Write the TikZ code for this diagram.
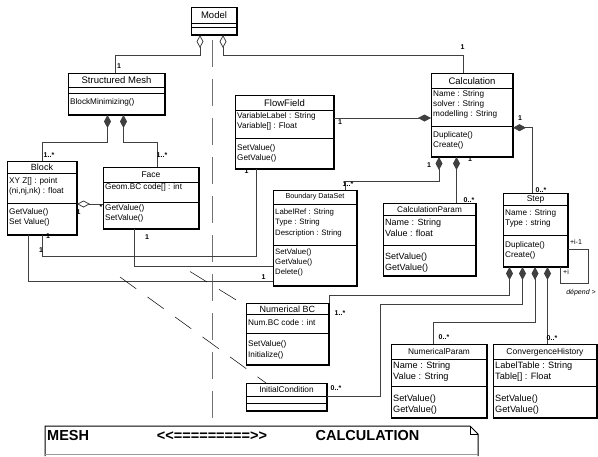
\documentclass[tikz,border=0pt]{standalone}
\usepackage{fontspec}
\setmainfont{Liberation Sans}
\usetikzlibrary{arrows.meta}
\newcommand\umlframe[7]{%
  \node[box, minimum width=#4pt, minimum height=#5pt] (#1) at (#2,#3) {};
  \draw[cline] ([yshift=-#6pt]#1.north west) -- ([yshift=-#6pt]#1.north east);
  \draw[cline] ([yshift=-#6pt-#7pt]#1.north west) -- ([yshift=-#6pt-#7pt]#1.north east);
  \draw[thickedge] (#1.south west) -- (#1.south east) -- (#1.north east);
}
\begin{document}
\begin{tikzpicture}[x=1pt,y=-1pt,
  box/.style={draw, line width=0.7pt, inner sep=0pt, outer sep=0pt, anchor=north west},
  cline/.style={line width=0.6pt},
  thickedge/.style={line width=1.4pt},
  ttl/.style={inner sep=0pt, font=\fontsize{#1}{10}\selectfont},
  ttl/.default=8.5,
  att/.style={anchor=north west, align=left, inner sep=0pt, font=\fontsize{#1}{10.2}\selectfont},
  att/.default=8.2,
  attw/.style={anchor=north west, align=left, inner sep=0pt, font=\fontsize{#1}{11}\selectfont},
  con/.style={draw=black!75, line width=0.8pt},
  comp/.style={con, {Diamond[length=13pt,width=7pt]}-},
  agg/.style={con, {Diamond[open,length=13pt,width=7pt]}-},
  lab/.style={inner sep=0pt, font=\bfseries\fontsize{7}{8}\selectfont},
  vline/.style={draw=black!55, line width=1.2pt, dash pattern=on 27pt off 12pt},
  dline/.style={draw=black, line width=0.5pt, dash pattern=on 20pt off 14pt},
]
\useasboundingbox[fill=white] (0,0) rectangle (598,456);

% ---------- vertical separator ----------
\coordinate (vtop) at (212.5,40);
\coordinate (vbot) at (212.5,426);
\draw[vline] (vtop) -- (vbot);

% ---------- boxes ----------
\umlframe{model}{191}{7}{46}{28}{16}{4}
\node[ttl=9.5] (model-t) at ([yshift=-8pt]model.north) {Model};

\umlframe{sm}{68}{73}{97}{42}{14}{6}
\node[ttl=9.5] (sm-t) at ([yshift=-7pt]sm.north) {Structured Mesh};
\node[att] (sm-m) at ([xshift=2pt,yshift=-25.5pt]sm.north west) {BlockMinimizing()};

\umlframe{block}{7}{161}{70}{74}{12}{30}
\node[ttl=9] (block-t) at ([yshift=-6pt]block.north) {Block};
\node[att] (block-a) at ([xshift=2pt,yshift=-16pt]block.north west) {XY Z[] : point\\(ni,nj,nk) : float};
\node[att] (block-m) at ([xshift=2pt,yshift=-47pt]block.north west) {GetValue()\\Set Value()};

\umlframe{face}{103}{167}{96}{62}{15.5}{19.5}
\node[ttl] (face-t) at ([yshift=-7.7pt]face.north) {Face};
\node[att] (face-a) at ([xshift=2pt,yshift=-16.5pt]face.north west) {Geom.BC code[] : int};
\node[att] (face-m) at ([xshift=2pt,yshift=-37.5pt]face.north west) {GetValue()\\SetValue()};

\umlframe{ff}{235}{95}{99}{74}{15.7}{27.6}
\node[ttl=9.5] (ff-t) at ([yshift=-8pt]ff.north) {FlowField};
\node[att] (ff-a) at ([xshift=2pt,yshift=-17pt]ff.north west) {VariableLabel : String\\Variable[] : Float};
\node[att] (ff-m) at ([xshift=2pt,yshift=-49.5pt]ff.north west) {SetValue()\\GetValue()};

\umlframe{calc}{431}{73}{82}{84}{15.3}{37.7}
\node[ttl=9.5] (calc-t) at ([yshift=-7.7pt]calc.north) {Calculation};
\node[att] (calc-a) at ([xshift=2pt,yshift=-17pt]calc.north west) {Name : String\\solver : String\\modelling : String};
\node[att] (calc-m) at ([xshift=2pt,yshift=-58.5pt]calc.north west) {Duplicate()\\Create()};

\umlframe{bds}{273}{190}{84}{96}{14}{41.7}
\node[ttl=7.2] (bds-t) at ([yshift=-7pt]bds.north) {Boundary DataSet};
\node[att=7.8] (bds-a) at ([xshift=2pt,yshift=-18.8pt]bds.north west) {LabelRef : String\\Type : String\\Description : String};
\node[att=7.8] (bds-m) at ([xshift=2pt,yshift=-58.5pt]bds.north west) {SetValue()\\GetValue()\\Delete()};

\umlframe{cp}{383}{203}{93}{73}{12.5}{29.5}
\node[ttl=8.2] (cp-t) at ([yshift=-6.3pt]cp.north) {CalculationParam};
\node[attw=9] (cp-a) at ([xshift=2pt,yshift=-16pt]cp.north west) {Name : String\\Value : float};
\node[attw=9] (cp-m) at ([xshift=2pt,yshift=-50pt]cp.north west) {SetValue()\\GetValue()};

\umlframe{step}{503}{193}{65}{74}{12}{30}
\node[ttl=8.5] (step-t) at ([yshift=-6pt]step.north) {Step};
\node[att] (step-a) at ([xshift=2pt,yshift=-16.3pt]step.north west) {Name : String\\Type : string};
\node[att] (step-m) at ([xshift=2pt,yshift=-48.3pt]step.north west) {Duplicate()\\Create()};

\umlframe{nbc}{246}{303}{83}{62}{11.5}{19}
\node[ttl=9] (nbc-t) at ([yshift=-6pt]nbc.north) {Numerical BC};
\node[att] (nbc-a) at ([xshift=2pt,yshift=-16.8pt]nbc.north west) {Num.BC code : int};
\node[att] (nbc-m) at ([xshift=2pt,yshift=-37.8pt]nbc.north west) {SetValue()\\Initialize()};

\umlframe{ic}{246}{383}{81}{28}{13.4}{6.6}
\node[ttl=8.3] (ic-t) at ([yshift=-6.8pt]ic.north) {InitialCondition};

\umlframe{np}{391}{344}{96}{74}{15.7}{26.7}
\node[ttl=8.3] (np-t) at ([yshift=-7.8pt]np.north) {NumericalParam};
\node[attw=9.2] (np-a) at ([xshift=2pt,yshift=-17.7pt]np.north west) {Name : String\\Value : String};
\node[attw=9.2] (np-m) at ([xshift=2pt,yshift=-50.2pt]np.north west) {SetValue()\\GetValue()};

\umlframe{ch}{493}{344}{104}{74}{15.7}{26.7}
\node[ttl=8.5] (ch-t) at ([yshift=-7.8pt]ch.north) {ConvergenceHistory};
\node[attw=9.2] (ch-a) at ([xshift=2pt,yshift=-17.7pt]ch.north west) {LabelTable : String\\Table[] : Float};
\node[attw=9.2] (ch-m) at ([xshift=2pt,yshift=-50.2pt]ch.north west) {SetValue()\\GetValue()};

% ---------- connectors ----------
\draw[agg] (200,0 |- model.south) -- (200,55) -- (115,55) -- (115,0 |- sm.north);
\draw[agg] (223,0 |- model.south) -- (223,55) -- (463,55) -- (463,0 |- calc.north);
\draw[comp] (107.5,0 |- sm.south) -- (107.5,142) -- (42,142) -- (42,0 |- block.north);
\draw[comp] (123.5,0 |- sm.south) -- (123.5,142) -- (157,142) -- (157,0 |- face.north);
\draw[agg] (block.east |- 0,204) -- (face.west |- 0,204);
\draw[comp] (calc.west |- 0,118) -- (ff.east |- 0,118);
\draw[comp] (439,0 |- calc.south) -- (439,181) -- (345.5,181) -- (345.5,0 |- bds.north);
\draw[comp] (456.5,0 |- calc.south) -- (456.5,0 |- cp.north);
\draw[comp] (calc.east |- 0,127.7) -- (532.5,127.7) -- (532.5,0 |- step.north);
\draw[con] (42,0 |- block.south) -- (42,256) -- (256,256) -- (256,0 |- ff.south);
\draw[con] (134,0 |- face.south) -- (134,266) -- (bds.west |- 0,266);
\draw[con] (28,0 |- block.south) -- (28,281) -- (bds.west |- 0,281);
\draw[con] (step.east |- 0,249) -- (588,249) -- (588,283) -- (560,283) -- (560,0 |- step.south);
\draw[comp] (509.5,0 |- step.south) -- (509.5,295) -- (329,295) -- (nbc.north east);
\draw[comp] (522.5,0 |- step.south) -- (522.5,304) -- (380,304) -- (380,396.7) -- (ic.east |- 0,396.7);
\draw[comp] (535,0 |- step.south) -- (535,322.7) -- (433,322.7) -- (433,0 |- np.north);
\draw[comp] (547.5,0 |- step.south) -- (547.5,0 |- ch.north);

% dependency dashed lines
\coordinate (d1s) at (120,277);
\coordinate (d2s) at (190,271.5);
\draw[dline] (d1s) -- (266,0 |- ic.north);
\draw[dline] (d2s) -- (nbc.west |- 0,306);

% ---------- multiplicities ----------
\node[lab] (l1) at (119,66.5) {1};
\node[lab] (l2) at (462.5,47) {1};
\node[lab] (l3) at (49,155.5) {1..*};
\node[lab] (l4) at (162,155) {1..*};
\node[lab] (l5) at (78.5,212) {1};
\node[lab] (l6) at (101,207.5) {*};
\node[lab] (l7) at (340,122.5) {1};
\node[lab] (l8) at (246.5,171) {1};
\node[lab] (l9) at (48,236) {1};
\node[lab] (l10) at (41,250) {1};
\node[lab] (l11) at (147,237) {1};
\node[lab] (l12) at (263.5,277.5) {1};
\node[lab] (l13) at (348,184.5) {1..*};
\node[lab] (l14) at (429,165.5) {1};
\node[lab] (l15) at (470,159) {1};
\node[lab] (l16) at (469,200) {0..*};
\node[lab] (l17) at (520,118.5) {1};
\node[lab] (l18) at (541,190) {0..*};
\node[inner sep=0pt, font=\fontsize{7}{8}\selectfont] (l19) at (576,242) {+i-1};
\node[inner sep=0pt, font=\fontsize{7}{8}\selectfont] (l20) at (566,271.5) {+i};
\node[inner sep=0pt, font=\itshape\fontsize{7}{8}\selectfont] (l21) at (581,293) {dépend >};
\node[lab] (l22) at (340,313) {1..*};
\node[lab] (l23) at (336,388) {0..*};
\node[lab] (l24) at (444,337) {0..*};
\node[lab] (l25) at (552,338) {0..*};

% ---------- note ----------
\draw[line width=1pt] (45,456) -- (45,426) -- (470,426) -- (478,434) -- (478,456);
\draw[line width=0.6pt] (470,426) -- (470,434) -- (478,434);
\draw[black!40, line width=1pt] (45,454.5) -- (478,454.5);
\node[anchor=west, inner sep=0pt, font=\bfseries\fontsize{14.5}{16}\selectfont] (n1) at (47,436) {MESH};
\node[inner sep=0pt, font=\bfseries\fontsize{14.5}{16}\selectfont] (n2) at (212,436) {<{}<=========>{}>};
\node[inner sep=0pt, font=\bfseries\fontsize{14.5}{16}\selectfont] (n3) at (367.5,436) {CALCULATION};
\end{tikzpicture}
\end{document}
